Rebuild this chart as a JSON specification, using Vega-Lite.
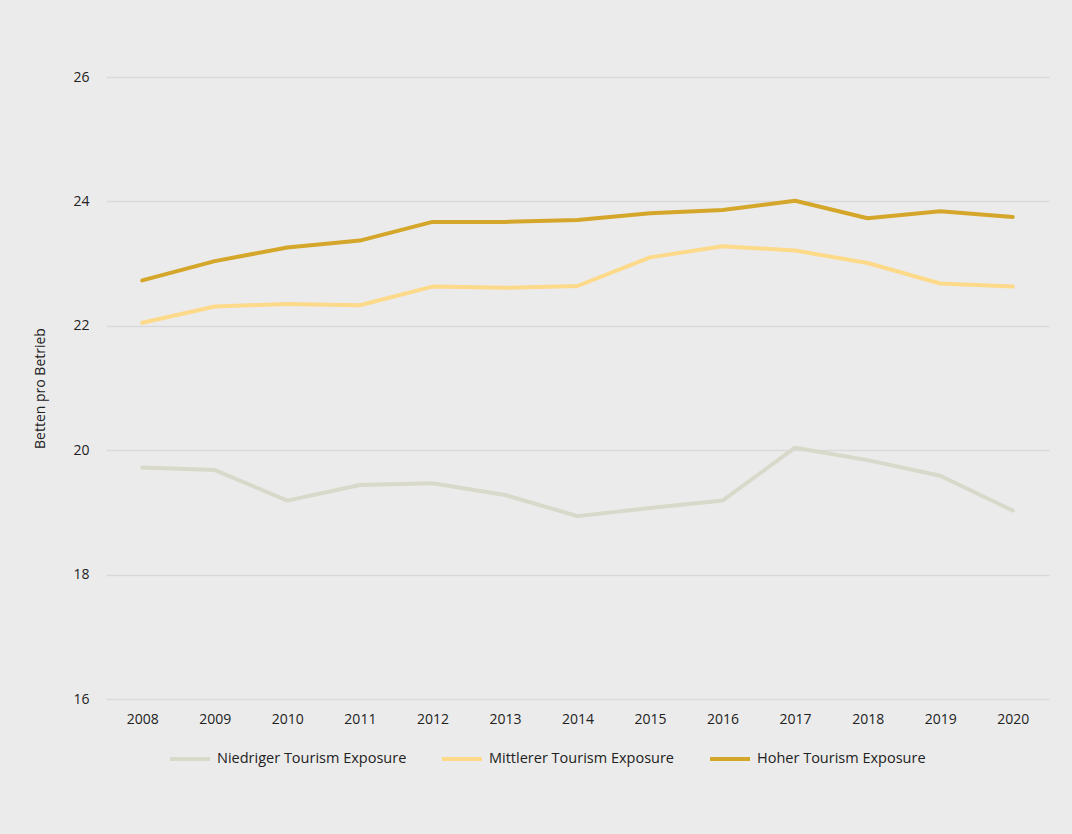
{
  "$schema": "https://vega.github.io/schema/vega-lite/v6.json",
  "autosize": "none",
  "width": 943,
  "height": 622,
  "padding": {"left": 106, "top": 77, "right": 23, "bottom": 135},
  "background": "#ebebeb",
  "config": {
    "view": {"stroke": null},
    "font": "Open Sans",
    "axis": {"labelFont": "Open Sans", "titleFont": "Open Sans", "labelColor": "#222222", "titleColor": "#222222"}
  },
  "data": {
    "values": [
      {"jahr": "2008", "gruppe": "Niedriger Tourism Exposure", "betten": 19.72},
      {"jahr": "2009", "gruppe": "Niedriger Tourism Exposure", "betten": 19.68},
      {"jahr": "2010", "gruppe": "Niedriger Tourism Exposure", "betten": 19.19},
      {"jahr": "2011", "gruppe": "Niedriger Tourism Exposure", "betten": 19.44},
      {"jahr": "2012", "gruppe": "Niedriger Tourism Exposure", "betten": 19.47},
      {"jahr": "2013", "gruppe": "Niedriger Tourism Exposure", "betten": 19.28},
      {"jahr": "2014", "gruppe": "Niedriger Tourism Exposure", "betten": 18.94},
      {"jahr": "2015", "gruppe": "Niedriger Tourism Exposure", "betten": 19.07},
      {"jahr": "2016", "gruppe": "Niedriger Tourism Exposure", "betten": 19.19},
      {"jahr": "2017", "gruppe": "Niedriger Tourism Exposure", "betten": 20.04},
      {"jahr": "2018", "gruppe": "Niedriger Tourism Exposure", "betten": 19.84},
      {"jahr": "2019", "gruppe": "Niedriger Tourism Exposure", "betten": 19.59},
      {"jahr": "2020", "gruppe": "Niedriger Tourism Exposure", "betten": 19.03},
      {"jahr": "2008", "gruppe": "Mittlerer Tourism Exposure", "betten": 22.05},
      {"jahr": "2009", "gruppe": "Mittlerer Tourism Exposure", "betten": 22.31},
      {"jahr": "2010", "gruppe": "Mittlerer Tourism Exposure", "betten": 22.35},
      {"jahr": "2011", "gruppe": "Mittlerer Tourism Exposure", "betten": 22.33},
      {"jahr": "2012", "gruppe": "Mittlerer Tourism Exposure", "betten": 22.63},
      {"jahr": "2013", "gruppe": "Mittlerer Tourism Exposure", "betten": 22.61},
      {"jahr": "2014", "gruppe": "Mittlerer Tourism Exposure", "betten": 22.64},
      {"jahr": "2015", "gruppe": "Mittlerer Tourism Exposure", "betten": 23.10},
      {"jahr": "2016", "gruppe": "Mittlerer Tourism Exposure", "betten": 23.28},
      {"jahr": "2017", "gruppe": "Mittlerer Tourism Exposure", "betten": 23.21},
      {"jahr": "2018", "gruppe": "Mittlerer Tourism Exposure", "betten": 23.01},
      {"jahr": "2019", "gruppe": "Mittlerer Tourism Exposure", "betten": 22.68},
      {"jahr": "2020", "gruppe": "Mittlerer Tourism Exposure", "betten": 22.63},
      {"jahr": "2008", "gruppe": "Hoher Tourism Exposure", "betten": 22.73},
      {"jahr": "2009", "gruppe": "Hoher Tourism Exposure", "betten": 23.04},
      {"jahr": "2010", "gruppe": "Hoher Tourism Exposure", "betten": 23.26},
      {"jahr": "2011", "gruppe": "Hoher Tourism Exposure", "betten": 23.37},
      {"jahr": "2012", "gruppe": "Hoher Tourism Exposure", "betten": 23.67},
      {"jahr": "2013", "gruppe": "Hoher Tourism Exposure", "betten": 23.67},
      {"jahr": "2014", "gruppe": "Hoher Tourism Exposure", "betten": 23.70},
      {"jahr": "2015", "gruppe": "Hoher Tourism Exposure", "betten": 23.81},
      {"jahr": "2016", "gruppe": "Hoher Tourism Exposure", "betten": 23.86},
      {"jahr": "2017", "gruppe": "Hoher Tourism Exposure", "betten": 24.01},
      {"jahr": "2018", "gruppe": "Hoher Tourism Exposure", "betten": 23.73},
      {"jahr": "2019", "gruppe": "Hoher Tourism Exposure", "betten": 23.84},
      {"jahr": "2020", "gruppe": "Hoher Tourism Exposure", "betten": 23.75}
    ]
  },
  "mark": {"type": "line", "strokeWidth": 4, "strokeJoin": "round", "strokeCap": "round"},
  "encoding": {
    "x": {
      "field": "jahr",
      "type": "ordinal",
      "scale": {"type": "point", "padding": 0.5},
      "axis": {
        "title": null,
        "labelAngle": 0,
        "labelFontSize": 14,
        "labelPadding": 13,
        "ticks": false,
        "domain": false,
        "grid": false
      }
    },
    "y": {
      "field": "betten",
      "type": "quantitative",
      "scale": {"domain": [16, 26], "nice": false, "zero": false},
      "axis": {
        "title": "Betten pro Betrieb",
        "titleFontSize": 14,
        "titleFontWeight": "normal",
        "titlePadding": 25,
        "values": [16, 18, 20, 22, 24, 26],
        "labelFontSize": 14,
        "labelPadding": 17,
        "ticks": false,
        "domain": false,
        "grid": true,
        "gridColor": "#d9d9d9",
        "gridWidth": 1.5
      }
    },
    "color": {
      "field": "gruppe",
      "type": "nominal",
      "sort": ["Niedriger Tourism Exposure", "Mittlerer Tourism Exposure", "Hoher Tourism Exposure"],
      "scale": {
        "domain": ["Niedriger Tourism Exposure", "Mittlerer Tourism Exposure", "Hoher Tourism Exposure"],
        "range": ["#d8d9ca", "#fdd98a", "#d4a62a"]
      },
      "legend": {
        "title": null,
        "orient": "none",
        "direction": "horizontal",
        "legendX": 62,
        "legendY": 660,
        "symbolType": "stroke",
        "symbolSize": 1600,
        "symbolStrokeWidth": 4,
        "labelFontSize": 14.5,
        "labelLimit": 0,
        "labelColor": "#222222",
        "labelOffset": 5,
        "columnPadding": 27
      }
    }
  }
}
